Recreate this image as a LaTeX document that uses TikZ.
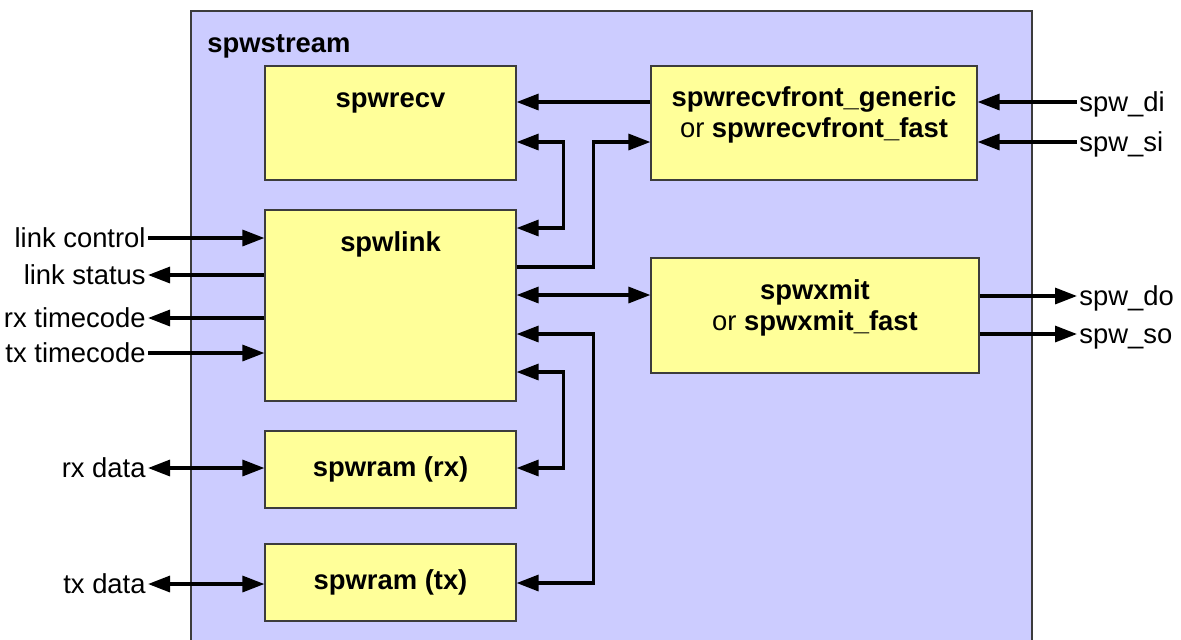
\documentclass[tikz,border=0pt]{standalone}
\usepackage{fontspec}
\setmainfont{Liberation Sans}
\usetikzlibrary{positioning}
\usetikzlibrary{calc}
\usetikzlibrary{arrows.meta}
\definecolor{streamcolor}{RGB}{204, 204, 255}
\definecolor{blockcolor}{RGB}{255, 255, 153}
\definecolor{edgecolor}{RGB}{60, 60, 60}
\newcommand{\diafont}{\fontsize{13.7}{15.5}\selectfont}
\tikzstyle{stream} = [
	draw=edgecolor,
	fill=streamcolor,
	line width=0.6pt,
]
\tikzstyle{block} = [
	draw=edgecolor,
	fill=blockcolor,
	line width=0.6pt,
	inner sep=0pt,
	minimum width=125.5pt,
	font=\diafont\bfseries,
]
\tikzstyle{title} = [
	inner sep=0pt,
	font=\diafont\bfseries,
	align=center,
]
\tikzstyle{port} = [
	inner xsep=1pt,
	inner ysep=0pt,
	text height=12pt,
	text depth=3pt,
	font=\diafont,
]
\tikzstyle{sig} = [
	line width=1.6pt,
	-{Triangle[length=11pt,width=8pt]},
]
\tikzstyle{bisig} = [
	line width=1.6pt,
	{Triangle[length=11pt,width=8pt]}-{Triangle[length=11pt,width=8pt]},
]

\begin{document}
\begin{tikzpicture}[x=0.5pt, y=-0.5pt]
	\useasboundingbox (0,0) rectangle (1181,639);
	
	%
	% Outer entity
	\draw[stream] (191,11) rectangle (1032,660);
	\node[title, anchor=west] (streamtitle) at (207,46) {spwstream};
	
	%
	% Blocks
	\node[block, minimum height=57pt] (recv) at (390.5,123) {};
	\node[title] (recvtitle) at (390.5,103) {spwrecv};
	\node[block, minimum width=163pt, minimum height=57pt] (front) at (814,123) {};
	\node[title] (fronttitle) at (814,115) {spwrecvfront\_generic\\\mdseries or \bfseries spwrecvfront\_fast};
	\node[block, minimum height=95.5pt] (link) at (390.5,305.5) {};
	\node[title] (linktitle) at (390.5,244) {spwlink};
	\node[block, minimum width=164pt, minimum height=57.5pt] (xmit) at (815,315.5) {};
	\node[title] (xmittitle) at (815,308) {spwxmit\\\mdseries or \bfseries spwxmit\_fast};
	\node[block, minimum height=38.5pt] (ramrx) at (390.5,469.5) {spwram (rx)};
	\node[block, minimum height=38.5pt] (ramtx) at (390.5,582.5) {spwram (tx)};
	
	%
	% Ports
	\node[port, anchor=east] (lctrl) at (148,238) {link control};
	\node[port, anchor=east] (lstat) at (148,275) {link status};
	\node[port, anchor=east] (rxtc) at (148,318) {rx timecode};
	\node[port, anchor=east] (txtc) at (148,353) {tx timecode};
	\node[port, anchor=east] (rxdata) at (148,468) {rx data};
	\node[port, anchor=east] (txdata) at (148,584) {tx data};
	\node[port, anchor=west] (spwdi) at (1077,102) {spw\_di};
	\node[port, anchor=west] (spwsi) at (1077,142) {spw\_si};
	\node[port, anchor=west] (spwdo) at (1077,296) {spw\_do};
	\node[port, anchor=west] (spwso) at (1077,334) {spw\_so};
	
	%
	% Arrows
	
	% left side
	\draw[sig] (lctrl.east) -- (link.west |- lctrl.east);
	\draw[sig] (link.west |- lstat.east) -- (lstat.east);
	\draw[sig] (link.west |- rxtc.east) -- (rxtc.east);
	\draw[sig] (txtc.east) -- (link.west |- txtc.east);
	\draw[bisig] (rxdata.east) -- (ramrx.west |- rxdata.east);
	\draw[bisig] (txdata.east) -- (ramtx.west |- txdata.east);
	
	% right side
	\draw[sig] (spwdi.west) -- (front.east |- spwdi.west);
	\draw[sig] (spwsi.west) -- (front.east |- spwsi.west);
	\draw[sig] (xmit.east |- spwdo.west) -- (spwdo.west);
	\draw[sig] (xmit.east |- spwso.west) -- (spwso.west);
	
	% between blocks
	\draw[sig] (front.west |- 0,102) -- (recv.east |- 0,102);
	\draw[bisig] (recv.east |- 0,142) -- ++(47,0) |- (link.east |- 0,228);
	\draw[sig] (link.east |- 0,267) -- ++(77,0) |- (front.west |- 0,142);
	\draw[bisig] (link.east |- 0,295) -- (xmit.west |- 0,295);
	\draw[bisig] (link.east |- 0,334) -- ++(77,0) |- (ramtx.east |- 0,583);
	\draw[bisig] (link.east |- 0,372) -- ++(47,0) |- (ramrx.east |- 0,468);
	
\end{tikzpicture}
\end{document}
